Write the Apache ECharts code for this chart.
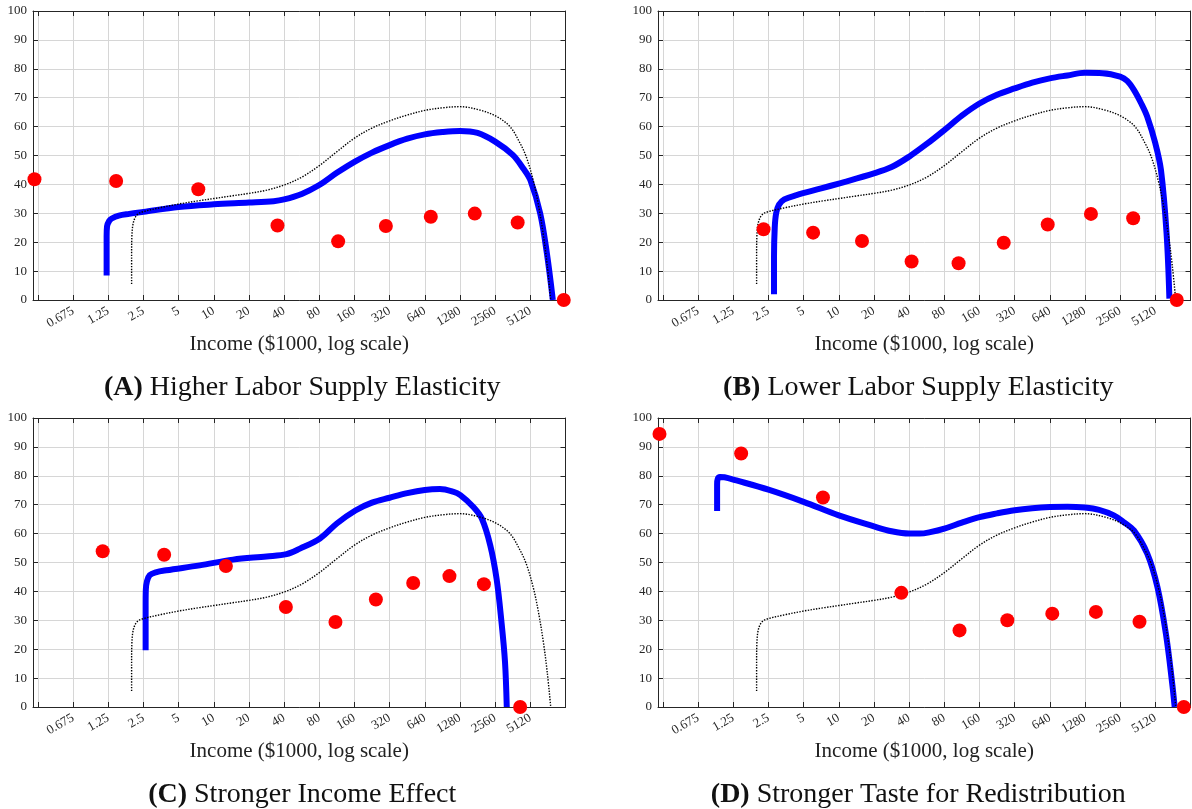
<!DOCTYPE html>
<html>
<head>
<meta charset="utf-8">
<script src="https://cdn.jsdelivr.net/npm/echarts@6/dist/echarts.min.js"></script>
<style>
  html, body { margin: 0; padding: 0; background: #ffffff; }
  #chart { width: 1192px; height: 809px; }
</style>
</head>
<body>
<div id="chart"></div>
<script>
// Income axis: one tick per doubling, starting at $312.5 (unlabelled first tick)
const incomeBase = 0.3125;
const incomeTickLabels = ['0.675', '1.25', '2.5', '5', '10', '20', '40', '80', '160', '320', '640', '1280', '2560', '5120'];
const rateTicks = [0, 10, 20, 30, 40, 50, 60, 70, 80, 90, 100];

const panelTitles = ['(A)', '(B)', '(C)', '(D)'];
const panelNames = [
  'Higher Labor Supply Elasticity',
  'Lower Labor Supply Elasticity',
  'Stronger Income Effect',
  'Stronger Taste for Redistribution'
];
const axisName = 'Income ($1000, log scale)';

// Baseline schedule (income in $1000, rate in %), shown dotted in every panel
const baseIncome = [1.98, 1.98, 1.99, 2.03, 2.12, 2.25, 2.5, 3.54, 5, 7.58, 10, 14.1, 20, 28.3, 40, 56.6, 80, 113, 160, 226, 320, 453, 640, 905, 1280, 1900, 2632, 3425, 4188, 4777, 5450, 6005, 6617, 7141, 7653];
const baseRate = [5.5, 15, 22, 26, 28.5, 29.8, 30.6, 32, 33.2, 34.4, 35.1, 36, 36.9, 38, 39.8, 42.5, 46.5, 51.3, 56, 59.5, 62, 64, 65.6, 66.5, 66.9, 65.7, 63.5, 60, 54.2, 49, 41, 32.9, 22.5, 12.1, 0];

// (A) Higher labor supply elasticity
const incomeA = [1.21, 1.21, 1.22, 1.27, 1.34, 1.54, 1.89, 2.5, 5, 10, 20, 32.5, 40, 56.6, 80, 113, 160, 226, 320, 453, 640, 905, 1280, 1810, 2560, 3620, 4457, 5120, 6217, 7092, 7978];
const rateA = [8.5, 22, 25.5, 27.3, 28.2, 29.2, 29.8, 30.5, 32.2, 33.1, 33.7, 34.2, 34.8, 36.7, 39.8, 44, 47.8, 51, 53.6, 55.8, 57.3, 58.1, 58.5, 57.8, 54.8, 50.2, 45.5, 41.5, 30, 16.2, 0];
const pointIncomeA = [0.292, 1.46, 7.37, 35.1, 116, 297, 720, 1713, 3989, 9891];
const pointRateA = [41.8, 41.2, 38.3, 25.8, 20.3, 25.6, 28.8, 29.9, 26.8, 0];

// (B) Lower labor supply elasticity
const incomeB = [2.79, 2.79, 2.83, 2.91, 3.08, 3.42, 4.35, 7.07, 10, 20, 28.3, 40, 56.6, 80, 113, 160, 226, 320, 453, 640, 905, 1280, 1810, 2560, 2941, 3355, 3880, 4366, 5120, 5721, 6391, 6756];
const rateB = [2, 15, 25, 30, 33, 34.8, 36.3, 38.6, 40.3, 43.8, 46, 49.6, 54, 58.8, 63.8, 68, 71, 73.2, 75.2, 76.7, 77.7, 78.6, 78.5, 77.3, 75.8, 72.7, 68, 63.4, 54.2, 45, 23, 0.5];
const pointIncomeB = [2.27, 6.03, 15.8, 42.0, 106, 258, 614, 1440, 3309, 7815];
const pointRateB = [24.5, 23.3, 20.4, 13.3, 12.7, 19.8, 26.1, 29.8, 28.3, 0];

// (C) Stronger income effect
const incomeC = [2.61, 2.61, 2.62, 2.68, 2.83, 3.19, 3.92, 7.58, 14.6, 28.3, 42.0, 54.6, 81.1, 113, 163, 226, 320, 453, 640, 862, 1114, 1289, 1666, 1967, 2323, 2632, 2900, 3108, 3218];
const rateC = [19.6, 35, 40.5, 43.5, 45.6, 46.6, 47.3, 49, 51, 52.1, 52.9, 54.8, 58.3, 63.5, 68, 70.7, 72.4, 74, 75.1, 75.4, 74.5, 73.3, 69.2, 65.2, 56, 44.4, 29.4, 15.6, 0];
const pointIncomeC = [1.12, 3.76, 12.7, 41.4, 110, 244, 509, 1040, 2051, 4188];
const pointRateC = [53.9, 52.7, 48.8, 34.6, 29.4, 37.2, 42.9, 45.3, 42.5, 0];

// (D) Stronger taste for redistribution
const incomeD = [0.909, 0.909, 0.921, 0.961, 1.051, 1.33, 2.5, 5, 10, 20, 28.3, 40, 49.2, 60.6, 80, 113, 160, 226, 320, 453, 640, 905, 1280, 1689, 2260, 2744, 3355, 4366, 5338, 6303, 7141, 7496];
const rateD = [67.8, 77, 79, 79.6, 79.5, 78.4, 75.2, 71, 66.3, 62.5, 60.8, 60, 60, 60.5, 61.7, 63.8, 65.7, 67, 68.1, 68.8, 69.2, 69.3, 69, 68.2, 66.3, 64, 61.1, 53.1, 41.5, 25.4, 8.1, 0];
const pointIncomeD = [0.292, 1.46, 7.32, 34.3, 108, 277, 672, 1587, 3748, 8976];
const pointRateD = [94.5, 87.7, 72.5, 39.5, 26.5, 30, 32.3, 32.9, 29.5, 0];

const curves = [[incomeA, rateA], [incomeB, rateB], [incomeC, rateC], [incomeD, rateD]];
const points = [[pointIncomeA, pointRateA], [pointIncomeB, pointRateB], [pointIncomeC, pointRateC], [pointIncomeD, pointRateD]];

// ---- layout ----
const FONT = '"Liberation Serif", "Times New Roman", serif';
const INK = '#262626';
const GRIDLINE = '#d6d6d6';
const boxes = [
  { left: 33, top: 11 },
  { left: 658, top: 11 },
  { left: 33, top: 418 },
  { left: 658, top: 418 }
];
const BOX_W = 532.5, BOX_H = 289;

// position along the log axis: number of doublings above incomeBase
const logPos = v => Math.log2(v / incomeBase);
const pairs = (xs, ys) => xs.map((x, i) => [logPos(x), ys[i]]);

const tickPositions = [];
for (let k = 0; k <= incomeTickLabels.length + 1; k++) tickPositions.push(k);
const labelPositions = incomeTickLabels.map((_, i) => i + 1);

const grid = [], xAxis = [], yAxis = [], series = [], graphic = [];

boxes.forEach((b, i) => {
  grid.push({ left: b.left, top: b.top, width: BOX_W, height: BOX_H, containLabel: false });

  const xCommon = {
    type: 'value', gridIndex: i, min: -0.14, max: 15,
    axisLine: { show: true, onZero: false, lineStyle: { color: INK, width: 1 } }
  };
  xAxis.push(Object.assign({}, xCommon, {
    position: 'bottom',
    axisTick: { show: true, inside: true, length: 5, customValues: tickPositions, lineStyle: { color: INK } },
    axisLabel: {
      show: true, customValues: labelPositions, rotate: 30, margin: 10,
      fontFamily: FONT, fontSize: 13, color: INK,
      formatter: v => incomeTickLabels[Math.round(v) - 1] || ''
    },
    splitLine: { show: true, lineStyle: { color: GRIDLINE, width: 1 } }
  }));
  xAxis.push(Object.assign({}, xCommon, {
    position: 'top',
    axisTick: { show: true, inside: true, length: 5, customValues: tickPositions, lineStyle: { color: INK } },
    axisLabel: { show: false },
    splitLine: { show: false }
  }));

  const yCommon = {
    type: 'value', gridIndex: i, min: 0, max: 100, interval: 10,
    axisLine: { show: true, onZero: false, lineStyle: { color: INK, width: 1 } },
    axisTick: { show: true, inside: true, length: 5, lineStyle: { color: INK } }
  };
  yAxis.push(Object.assign({}, yCommon, {
    position: 'left',
    axisLabel: { show: true, margin: 6, fontFamily: FONT, fontSize: 13, color: INK },
    splitLine: { show: true, lineStyle: { color: GRIDLINE, width: 1 } }
  }));
  yAxis.push(Object.assign({}, yCommon, {
    position: 'right',
    axisLabel: { show: false },
    splitLine: { show: false }
  }));

  series.push({
    type: 'line', xAxisIndex: 2 * i, yAxisIndex: 2 * i,
    data: pairs(curves[i][0], curves[i][1]),
    showSymbol: false, smooth: 0.35, clip: false, z: 3,
    lineStyle: { color: '#0000ff', width: 6, cap: 'butt', join: 'round' },
    silent: true, animation: false
  });
  series.push({
    type: 'line', xAxisIndex: 2 * i, yAxisIndex: 2 * i,
    data: pairs(baseIncome, baseRate),
    showSymbol: false, smooth: 0.35, clip: false, z: 4,
    lineStyle: { color: '#000000', width: 1.4, type: [1.4, 1.4] },
    silent: true, animation: false
  });
  series.push({
    type: 'scatter', xAxisIndex: 2 * i, yAxisIndex: 2 * i,
    data: pairs(points[i][0], points[i][1]),
    symbol: 'circle', symbolSize: 14, clip: false, z: 5,
    itemStyle: { color: '#ff0000', opacity: 1 },
    silent: true, animation: false
  });

  const cx = b.left + BOX_W / 2;
  graphic.push({
    type: 'text', x: cx, y: b.top + BOX_H + 44,
    style: {
      text: axisName, fill: '#222222', font: '21px ' + FONT,
      align: 'center', verticalAlign: 'middle'
    }
  });
  graphic.push({
    type: 'text', x: cx + (i % 2 === 0 ? 3 : -6), y: b.top + BOX_H + 88,
    style: {
      text: '{b|' + panelTitles[i] + '} ' + panelNames[i],
      fill: '#111111', font: '28px ' + FONT,
      align: 'center', verticalAlign: 'middle',
      rich: { b: { fontWeight: 'bold', fontSize: 28, fontFamily: FONT, fill: '#111111' } }
    }
  });
});

const chart = echarts.init(document.getElementById('chart'), null, { renderer: 'canvas' });
chart.setOption({
  backgroundColor: '#ffffff',
  animation: false,
  grid, xAxis, yAxis, series, graphic
});
</script>
</body>
</html>
